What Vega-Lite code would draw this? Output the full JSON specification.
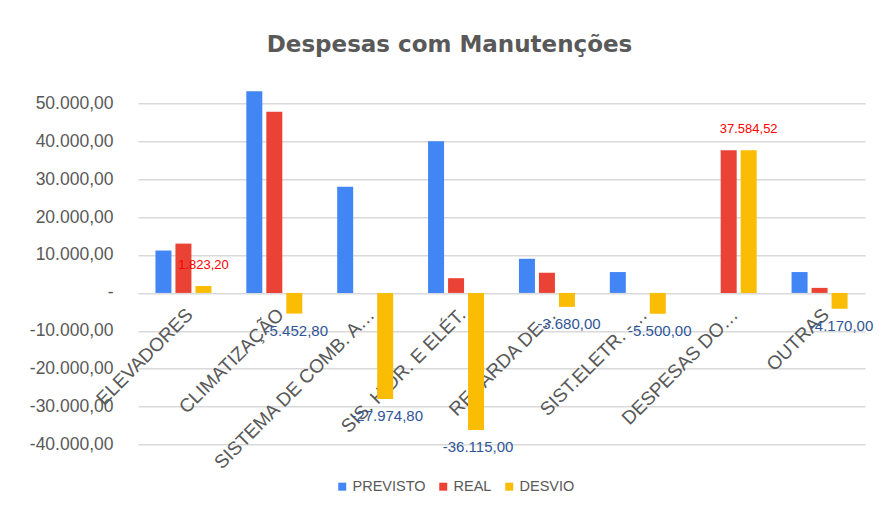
{
  "$schema": "https://vega.github.io/schema/vega-lite/v6.json",
  "width": 727,
  "height": 379.3,
  "autosize": "none",
  "padding": {"left": 138, "top": 84.3, "right": 14, "bottom": 42.4},
  "background": "white",
  "config": {
    "view": {"stroke": null},
    "font": "Liberation Sans",
    "locale": {"number": {"decimal": ",", "thousands": ".", "grouping": [3], "currency": ["R$ ", ""], "minus": "-"}}
  },
  "title": {
    "text": "Despesas com Manutenções",
    "font": "DejaVu Sans",
    "fontSize": 23,
    "fontWeight": "bold",
    "color": "#595959",
    "anchor": "middle",
    "frame": "group",
    "dx": -52,
    "baseline": "alphabetic",
    "offset": 9
  },
  "data": {
    "values": [
      {"categoria": "ELEVADORES", "serie": "PREVISTO", "valor": 11176.80},
      {"categoria": "ELEVADORES", "serie": "REAL", "valor": 13000.00},
      {"categoria": "ELEVADORES", "serie": "DESVIO", "valor": 1823.20},
      {"categoria": "CLIMATIZAÇÃO", "serie": "PREVISTO", "valor": 53200.00},
      {"categoria": "CLIMATIZAÇÃO", "serie": "REAL", "valor": 47747.20},
      {"categoria": "CLIMATIZAÇÃO", "serie": "DESVIO", "valor": -5452.80},
      {"categoria": "SISTEMA DE COMB. A…", "serie": "PREVISTO", "valor": 27974.80},
      {"categoria": "SISTEMA DE COMB. A…", "serie": "REAL", "valor": 0},
      {"categoria": "SISTEMA DE COMB. A…", "serie": "DESVIO", "valor": -27974.80},
      {"categoria": "SIS. HIDR. E ELÉT.", "serie": "PREVISTO", "valor": 40000.00},
      {"categoria": "SIS. HIDR. E ELÉT.", "serie": "REAL", "valor": 3885.00},
      {"categoria": "SIS. HIDR. E ELÉT.", "serie": "DESVIO", "valor": -36115.00},
      {"categoria": "RECARDA DE…", "serie": "PREVISTO", "valor": 9000.00},
      {"categoria": "RECARDA DE…", "serie": "REAL", "valor": 5320.00},
      {"categoria": "RECARDA DE…", "serie": "DESVIO", "valor": -3680.00},
      {"categoria": "SIST.ELETR. -…", "serie": "PREVISTO", "valor": 5500.00},
      {"categoria": "SIST.ELETR. -…", "serie": "REAL", "valor": 0},
      {"categoria": "SIST.ELETR. -…", "serie": "DESVIO", "valor": -5500.00},
      {"categoria": "DESPESAS DO…", "serie": "PREVISTO", "valor": 0},
      {"categoria": "DESPESAS DO…", "serie": "REAL", "valor": 37584.52},
      {"categoria": "DESPESAS DO…", "serie": "DESVIO", "valor": 37584.52},
      {"categoria": "OUTRAS", "serie": "PREVISTO", "valor": 5500.00},
      {"categoria": "OUTRAS", "serie": "REAL", "valor": 1330.00},
      {"categoria": "OUTRAS", "serie": "DESVIO", "valor": -4170.00}
    ]
  },
  "encoding": {
    "x": {
      "field": "categoria",
      "type": "nominal",
      "sort": null,
      "scale": {"paddingInner": 0.34, "paddingOuter": 0.17},
      "axis": {
        "title": null,
        "orient": "bottom",
        "offset": -170.6,
        "labelAngle": -45,
        "labelAlign": "right",
        "labelBaseline": "top",
        "labelFontSize": 19,
        "labelColor": "#595959",
        "labelPadding": 12,
        "labelLimit": 0,
        "domain": false,
        "ticks": false,
        "grid": false
      }
    },
    "y": {
      "field": "valor",
      "type": "quantitative",
      "scale": {"domain": [-45000, 55000], "nice": false, "zero": false},
      "axis": {
        "title": null,
        "values": [-40000, -30000, -20000, -10000, 0, 10000, 20000, 30000, 40000, 50000],
        "format": ",.2f",
        "labelExpr": "datum.value == 0 ? '-' : datum.label",
        "labelFontSize": 17.5,
        "labelColor": "#595959",
        "labelPadding": 25,
        "ticks": false,
        "domain": false,
        "gridColor": "#d9d9d9",
        "gridWidth": 1.5
      }
    },
    "xOffset": {
      "field": "serie",
      "type": "nominal",
      "sort": ["PREVISTO", "REAL", "DESVIO"],
      "scale": {"paddingInner": 0.2, "paddingOuter": 0.1}
    }
  },
  "layer": [
    {
      "mark": {"type": "bar"},
      "encoding": {
        "color": {
          "field": "serie",
          "type": "nominal",
          "sort": ["PREVISTO", "REAL", "DESVIO"],
          "scale": {"domain": ["PREVISTO", "REAL", "DESVIO"], "range": ["#4285F4", "#EA4335", "#FBBC04"]},
          "legend": {
            "title": null,
            "orient": "none",
            "direction": "horizontal",
            "legendX": 197,
            "legendY": 395,
            "symbolType": "square",
            "symbolSize": 64,
            "symbolStrokeWidth": 0,
            "labelFontSize": 14.5,
            "labelColor": "#595959",
            "labelOffset": 3,
            "columnPadding": 10
          }
        }
      }
    },
    {
      "transform": [{"filter": "datum.serie == 'DESVIO' && datum.valor > 0"}],
      "mark": {"type": "text", "baseline": "bottom", "dy": -14, "fontSize": 13, "color": "#FF0000"},
      "encoding": {"text": {"field": "valor", "type": "quantitative", "format": ",.2f"}}
    },
    {
      "transform": [{"filter": "datum.serie == 'DESVIO' && datum.valor < 0"}],
      "mark": {"type": "text", "baseline": "top", "dx": 2, "dy": 10, "fontSize": 15, "color": "#2F5597"},
      "encoding": {"text": {"field": "valor", "type": "quantitative", "format": ",.2f"}}
    }
  ]
}
